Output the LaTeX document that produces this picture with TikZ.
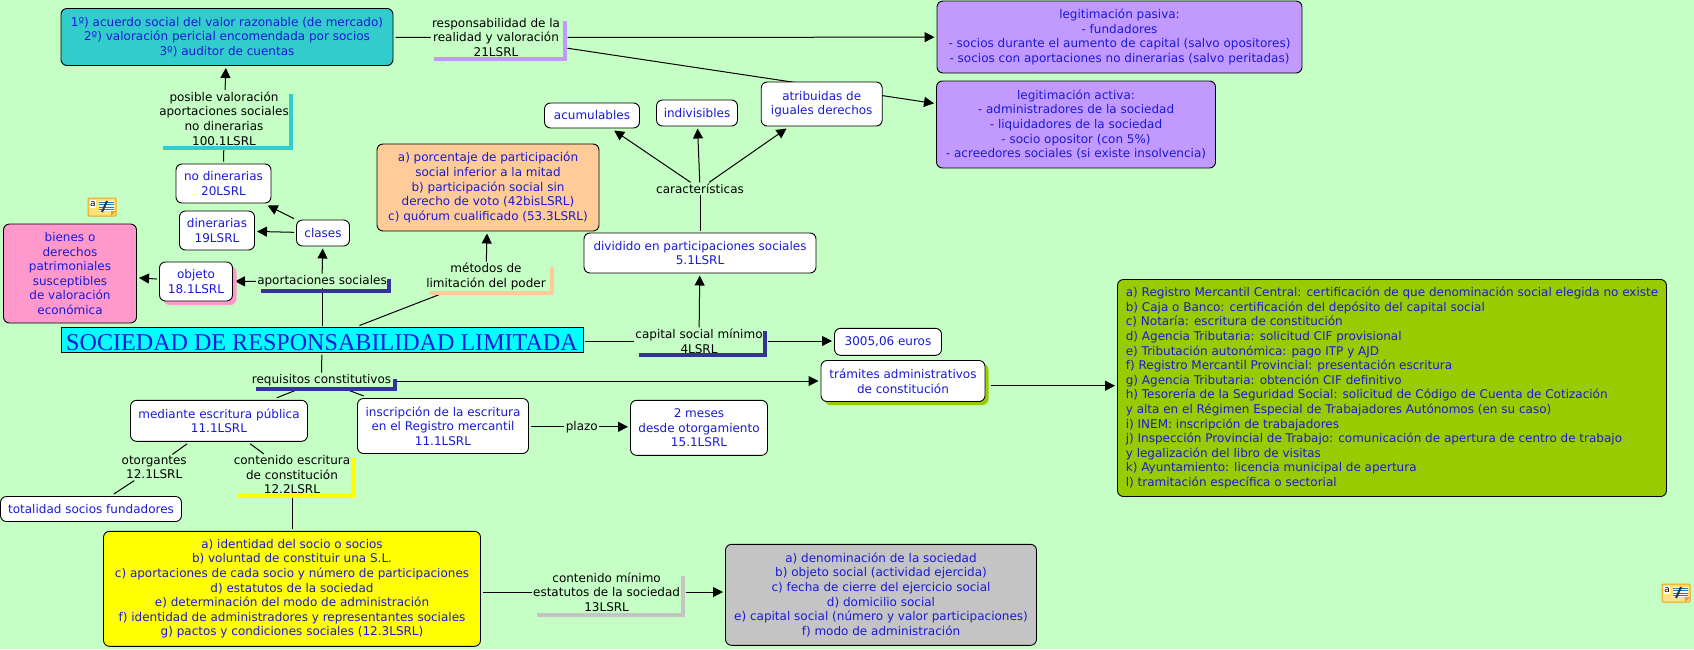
\documentclass[tikz,border=0pt]{standalone}
\usepackage{fontspec}
\setmainfont{DejaVu Sans}
\newfontfamily\titlefont{Liberation Serif}
\usetikzlibrary{arrows.meta, backgrounds, shadows}

\definecolor{bgcol}{HTML}{C6FFC6}
\definecolor{txtblue}{HTML}{1A1AD6}
\definecolor{tealcol}{HTML}{33CCCC}
\definecolor{cyancol}{HTML}{00FFFF}
\definecolor{yellowcol}{HTML}{FFFF00}
\definecolor{purplecol}{HTML}{C299FF}
\definecolor{orangecol}{HTML}{FFCC99}
\definecolor{pinkcol}{HTML}{FF99CC}
\definecolor{navycol}{HTML}{333399}
\definecolor{greencol}{HTML}{99CC00}
\definecolor{greycol}{HTML}{C4C4C4}
\definecolor{notecol}{HTML}{FFE27A}
\definecolor{noteedge}{HTML}{E8A21C}

\tikzset{
    txt/.style={font=\fontsize{12}{14.6}\selectfont, align=center, inner sep=0pt},
    box/.style n args={2}{txt, draw=black, line width=0.9pt, rounded corners=6pt, text=txtblue,
        fill=white, minimum width=#1pt, minimum height=#2pt, outer sep=2.5pt},
    lbl/.style={txt, text=black, outer sep=1.5pt},
    bar/.style={line width=4pt, line cap=butt},
    link/.style={line width=1pt},
    arrow/.style={link, -{Triangle[length=10pt,width=10pt]}},
    note/.pic={
        \draw[fill=notecol, draw=noteedge, line width=1pt, rounded corners=1pt] (0,0) rectangle (28,18);
        \fill[white] (2,2) rectangle (8,10);
        \fill[white] (11,3) rectangle (26,13);
        \foreach \ypos in {4,6.5,9,11.5} \draw[cyan!60!blue, line width=0.7pt] (11,\ypos) -- (26,\ypos);
        \draw[black!80, line width=2pt] (14,14) -- (19,3);
        \fill[noteedge] (23,18) -- (28,13) -- (23,13) -- cycle;
        \node[inner sep=0pt, font=\fontsize{9}{9}\selectfont] at (5,6) {a};
    }
}

\begin{document}
\begin{tikzpicture}[x=1pt, y=-1pt]
    \useasboundingbox (0,0) rectangle (1694,649);

    % main title
    \node[draw=black, line width=0.9pt, fill=cyancol, text=txtblue, minimum width=522pt, minimum height=25pt,
        inner sep=0pt, outer sep=2pt, text height=20pt, text depth=0pt,
        font=\titlefont\fontsize{24.1}{24.1}\selectfont] (title) at (322,340) {SOCIEDAD DE RESPONSABILIDAD LIMITADA};

    % boxes
    \node[box={332}{57}, fill=tealcol] (acuerdo) at (227,37) {1º) acuerdo social del valor razonable (de mercado)\\2º) valoración pericial encomendada por socios\\3º) auditor de cuentas};
    \node[box={95}{39}] (nodin) at (223.5,183.5) {no dinerarias\\20LSRL};
    \node[box={75}{39}] (din) at (217,230.5) {dinerarias\\19LSRL};
    \node[box={53}{26}] (clases) at (323,233) {clases};
    \node[box={73}{39}, general shadow={fill=pinkcol, shadow xshift=4pt, shadow yshift=-4pt}] (objeto) at (196,281.5) {objeto\\18.1LSRL};
    \node[box={133}{99}, fill=pinkcol] (bienes) at (70,273.5) {bienes o\\derechos\\patrimoniales\\susceptibles\\de valoración\\económica};
    \node[box={222}{87}, fill=orangecol] (metodos) at (488,187.5) {a) porcentaje de participación\\social inferior a la mitad\\b) participación social sin\\derecho de voto (42bisLSRL)\\c) quórum cualificado (53.3LSRL)};
    \node[box={365}{72}, fill=purplecol] (pasiva) at (1119.5,37) {legitimación pasiva:\\- fundadores\\- socios durante el aumento de capital (salvo opositores)\\- socios con aportaciones no dinerarias (salvo peritadas)};
    \node[box={279}{87}, fill=purplecol] (activa) at (1076,124.5) {legitimación activa:\\- administradores de la sociedad\\- liquidadores de la sociedad\\- socio opositor (con 5\%)\\- acreedores sociales (si existe insolvencia)};
    \node[box={121}{44}] (iguales) at (821.7,104) {atribuidas de\\iguales derechos};
    \node[box={81}{26}] (indiv) at (697,113) {indivisibles};
    \node[box={95}{25}] (acum) at (592,115.5) {acumulables};
    \node[box={232}{40}] (dividido) at (700,253) {dividido en participaciones sociales\\5.1LSRL};
    \node[box={107}{27}] (euros) at (888,341.8) {3005,06 euros};
    \node[box={164}{41}, general shadow={fill=greencol, shadow xshift=3.5pt, shadow yshift=-3.5pt}] (tramites) at (903,381) {trámites administrativos\\de constitución};
    \node[box={137}{55}] (meses) at (699,427.8) {2 meses\\desde otorgamiento\\15.1LSRL};
    \node[box={177}{41}] (escritura) at (219,420.8) {mediante escritura pública\\11.1LSRL};
    \node[box={171}{55}] (registro) at (443,426) {inscripción de la escritura\\en el Registro mercantil\\11.1LSRL};
    \node[box={181}{25}] (socios) at (91,509) {totalidad socios fundadores};
    \node[box={377}{115}, fill=yellowcol] (identidad) at (292,588.8) {a) identidad del socio o socios\\b) voluntad de constituir una S.L.\\c) aportaciones de cada socio y número de participaciones\\d) estatutos de la sociedad\\e) determinación del modo de administración\\f) identidad de administradores y representantes sociales\\g) pactos y condiciones sociales (12.3LSRL)};
    \node[box={311}{101}, fill=greycol] (minimo) at (881,594.8) {a) denominación de la sociedad\\b) objeto social (actividad ejercida)\\c) fecha de cierre del ejercicio social\\d) domicilio social\\e) capital social (número y valor participaciones)\\f) modo de administración};
    \node[box={549}{217}, fill=greencol, align=left] (registros) at (1392,388) {a) Registro Mercantil Central: certificación de que denominación social elegida no existe\\b) Caja o Banco: certificación del depósito del capital social\\c) Notaría: escritura de constitución\\d) Agencia Tributaria: solicitud CIF provisional\\e) Tributación autonómica: pago ITP y AJD\\f) Registro Mercantil Provincial: presentación escritura\\g) Agencia Tributaria: obtención CIF definitivo\\h) Tesorería de la Seguridad Social: solicitud de Código de Cuenta de Cotización\\y alta en el Régimen Especial de Trabajadores Autónomos (en su caso)\\i) INEM: inscripción de trabajadores\\j) Inspección Provincial de Trabajo: comunicación de apertura de centro de trabajo\\y legalización del libro de visitas\\k) Ayuntamiento: licencia municipal de apertura\\l) tramitación específica o sectorial};

    % linking words
    \node[lbl] (realidad) at (496,37.5) {responsabilidad de la\\realidad y valoración\\21LSRL};
    \node[lbl] (posible) at (224,118.5) {posible valoración\\aportaciones sociales\\no dinerarias\\100.1LSRL};
    \node[lbl] (aport) at (322,281) {aportaciones sociales};
    \node[lbl] (limita) at (486,276.5) {métodos de\\limitación del poder};
    \node[lbl] (caract) at (700,188.7) {características};
    \node[lbl] (capital) at (699,341) {capital social mínimo\\4LSRL};
    \node[lbl] (requis) at (321.5,380) {requisitos constitutivos};
    \node[lbl] (plazo) at (581.8,426.8) {plazo};
    \node[lbl] (otorg) at (154.2,467.5) {otorgantes\\12.1LSRL};
    \node[lbl] (contesc) at (292,474.7) {contenido escritura\\de constitución\\12.2LSRL};
    \node[lbl] (contmin) at (606.6,592) {contenido mínimo\\estatutos de la sociedad\\13LSRL};

    % corners of the linking words
    \draw[bar, purplecol] (565,21) |- (434,59);
    \draw[bar, tealcol] (291,94) |- (163,148);
    \draw[bar, navycol] (389,279) |- (261,291);
    \draw[bar, orangecol] (552,267) |- (429,293);
    \draw[bar, navycol] (765,331) |- (639,355);
    \draw[bar, navycol] (394.5,379) |- (256,389);
    \draw[bar, yellowcol] (353,458) |- (237,496);
    \draw[bar, greycol] (683,576) |- (537,614.5);

    % connectors
    \begin{scope}[on background layer]
        \fill[bgcol] (0,0) rectangle (1694,649);
        \draw[link] (acuerdo) -- (realidad);
        \draw[arrow, shorten <=6pt] (realidad) -- (pasiva);
        \draw[arrow, shorten <=6pt] (realidad) -- (activa);
        \draw[arrow] (posible) -- (acuerdo);
        \draw[link] (nodin) -- (posible);
        \draw[arrow] (clases) -- (nodin);
        \draw[arrow] (clases) -- (din);
        \draw[arrow] (aport) -- (clases);
        \draw[arrow] (aport) -- (objeto);
        \draw[arrow] (objeto) -- (bienes);
        \draw[link] (title) -- (aport);
        \draw[link] (title) -- (limita);
        \draw[arrow] (limita) -- (metodos);
        \draw[link] (capital -| title.east) -- (capital);
        \draw[arrow] (capital) -- (dividido);
        \draw[arrow, shorten <=4pt] (capital) -- (capital -| euros.west);
        \draw[link] (dividido) -- (caract);
        \draw[arrow] (caract) -- (acum);
        \draw[arrow] (caract) -- (indiv);
        \draw[arrow] (caract) -- (iguales);
        \draw[link] (title) -- (requis);
        \draw[arrow] (requis.east |- tramites) -- (tramites);
        \draw[arrow] ([xshift=3.5pt, yshift=-4.7pt]tramites.east) -- ([yshift=-4.7pt]tramites.east -| registros.west);
        \draw[link] (requis) -- (escritura);
        \draw[link] (requis) -- (registro);
        \draw[link] (registro.east |- plazo) -- (plazo);
        \draw[arrow] (plazo) -- (plazo -| meses.west);
        \draw[link] (escritura) -- (otorg);
        \draw[link] (escritura) -- (contesc);
        \draw[link] (otorg) -- (socios);
        \draw[link] (contesc) -- (identidad);
        \draw[link] (contmin -| identidad.east) -- (contmin);
        \draw[arrow, shorten <=4pt] (contmin) -- (contmin -| minimo.west);
    \end{scope}

    % notes
    \pic at (88,198) {note};
    \pic at (1662,584) {note};
\end{tikzpicture}
\end{document}
